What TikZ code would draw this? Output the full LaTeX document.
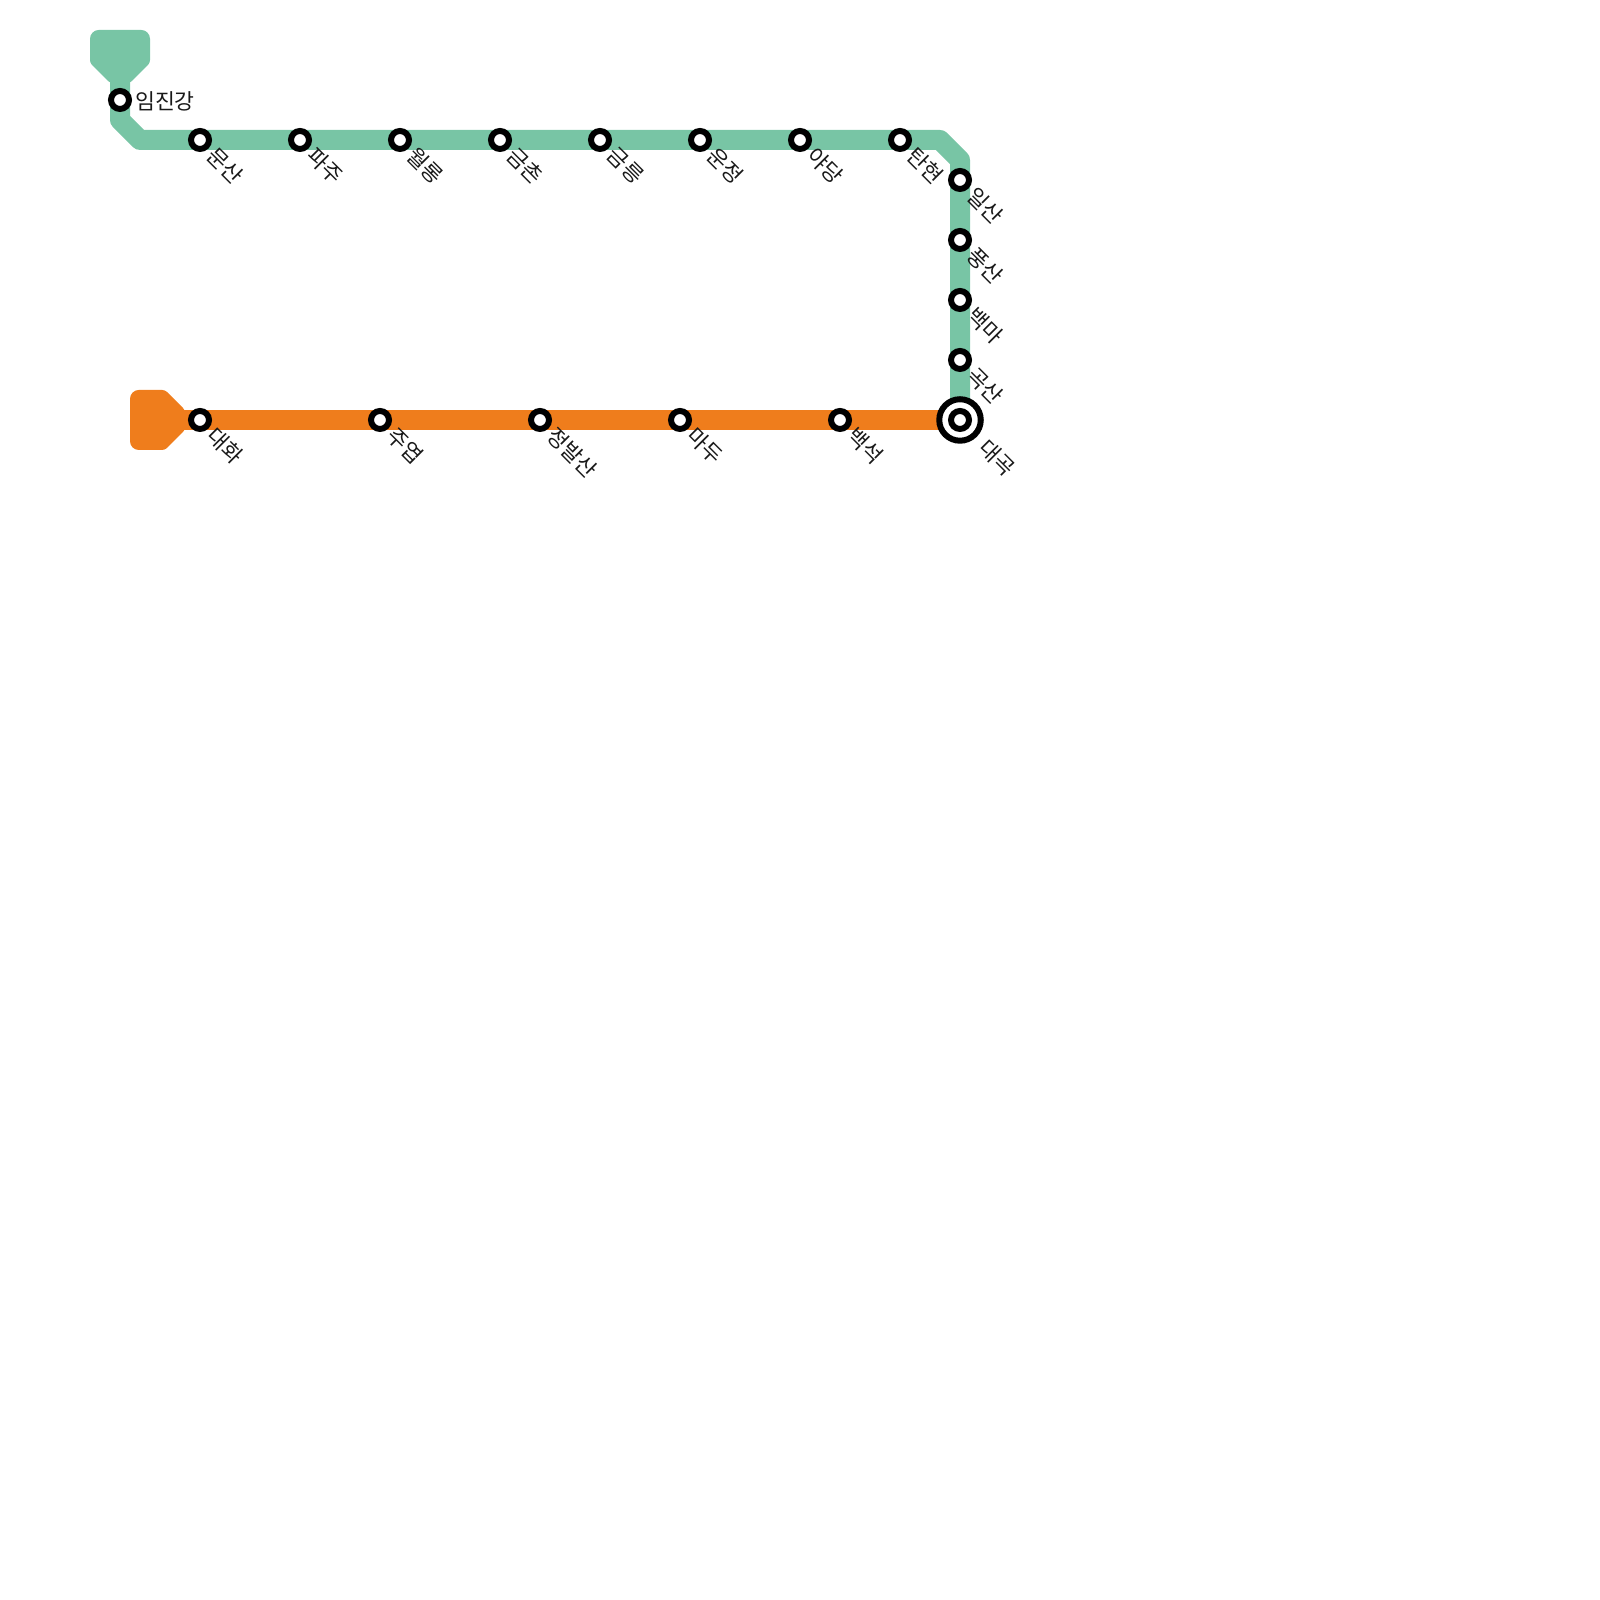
\documentclass[tikz,border=0pt]{standalone}
\usepackage{xcolor}
\usepackage{fontspec}
\setmainfont{Noto Sans CJK KR}
\usetikzlibrary{backgrounds}
\definecolor{linegreen}{HTML}{78C5A5}
\definecolor{lineorange}{HTML}{EF7D1C}

\begin{document}
\begin{tikzpicture}[x=1cm,y=1cm,
    track/.style={line width=0.2cm, line join=round},
    sta/.style={circle, draw=black, fill=white, line width=0.06cm, minimum size=0.18cm, inner sep=0pt, outer sep=0pt},
    ring/.style={circle, draw=black, fill=white, line width=0.06cm, minimum size=0.415cm, inner sep=0pt, outer sep=0pt},
    lblflat/.style={font=\fontsize{6.15pt}{7pt}\selectfont, text=black!90, anchor=west, inner sep=0pt},
    lbl/.style={lblflat, rotate=-45}]
  \useasboundingbox (0,0) rectangle (16,16);
  % ---------- interchange ----------
  \node[ring] (daegokring) at (9.6,11.8) {};
  \node[sta] (daegok) at (9.6,11.8) {};
  % ---------- green stations ----------
  \node[sta] (imjingang) at (1.2,15.0) {};
  \node[sta] (munsan)    at (2.0,14.6) {};
  \node[sta] (paju)      at (3.0,14.6) {};
  \node[sta] (wollong)   at (4.0,14.6) {};
  \node[sta] (geumchon)  at (5.0,14.6) {};
  \node[sta] (geumneung) at (6.0,14.6) {};
  \node[sta] (unjeong)   at (7.0,14.6) {};
  \node[sta] (yadang)    at (8.0,14.6) {};
  \node[sta] (tanhyeon)  at (9.0,14.6) {};
  \node[sta] (ilsan)     at (9.6,14.2) {};
  \node[sta] (pungsan)   at (9.6,13.6) {};
  \node[sta] (baengma)   at (9.6,13.0) {};
  \node[sta] (goksan)    at (9.6,12.4) {};
  % ---------- orange stations ----------
  \node[sta] (daehwa)     at (2.0,11.8) {};
  \node[sta] (juyeop)     at (3.8,11.8) {};
  \node[sta] (jeongbalsan) at (5.4,11.8) {};
  \node[sta] (madu)       at (6.8,11.8) {};
  \node[sta] (baekseok)   at (8.4,11.8) {};
  % ---------- bends ----------
  \coordinate (greenstart) at (1.2,15.4);
  \coordinate (bendA) at (1.2,14.8);
  \coordinate (bendB) at (1.4,14.6);
  \coordinate (bendC) at (9.4,14.6);
  \coordinate (bendD) at (9.6,14.4);
  \coordinate (orangestart) at (1.6,11.8);
  % ---------- lines ----------
  \begin{scope}[on background layer]
    \draw[track, linegreen] (greenstart) -- (imjingang.center) -- (bendA) -- (bendB) -- (munsan.center) -- (tanhyeon.center) -- (bendC) -- (bendD) -- (ilsan.center) -- (daegok.center);
    \draw[track, lineorange] (orangestart) -- (daehwa.center) -- (daegok.center);
    \fill[linegreen, rounded corners=2.5pt] (1.2,15.7) -- (1.5,15.7) [rounded corners=0.8pt] -- (1.5,15.37) -- (1.3,15.17) -- (1.1,15.17) -- (0.9,15.37) [rounded corners=2.5pt] -- (0.9,15.7) -- cycle;
    \fill[lineorange, rounded corners=2.5pt] (1.5,12.1) [rounded corners=0.8pt] -- (1.65,12.1) -- (1.85,11.9) -- (1.85,11.7) -- (1.65,11.5) [rounded corners=2.5pt] -- (1.3,11.5) -- (1.3,12.1) -- cycle;
  \end{scope}
  % ---------- labels ----------
  \node[lblflat] (imjingangl) at ([shift={(0.145,-0.01)}]imjingang.center) {임진강};
  \node[lbl] (munsanl)    at ([shift={(0.11,-0.11)}]munsan.center) {문산};
  \node[lbl] (pajul)      at ([shift={(0.11,-0.11)}]paju.center) {파주};
  \node[lbl] (wollongl)   at ([shift={(0.11,-0.11)}]wollong.center) {월롱};
  \node[lbl] (geumchonl)  at ([shift={(0.11,-0.11)}]geumchon.center) {금촌};
  \node[lbl] (geumneungl) at ([shift={(0.11,-0.11)}]geumneung.center) {금릉};
  \node[lbl] (unjeongl)   at ([shift={(0.11,-0.11)}]unjeong.center) {운정};
  \node[lbl] (yadangl)    at ([shift={(0.11,-0.11)}]yadang.center) {야당};
  \node[lbl] (tanhyeonl)  at ([shift={(0.11,-0.11)}]tanhyeon.center) {탄현};
  \node[lbl] (ilsanl)     at ([shift={(0.11,-0.11)}]ilsan.center) {일산};
  \node[lbl] (pungsanl)   at ([shift={(0.11,-0.11)}]pungsan.center) {풍산};
  \node[lbl] (baengmal)   at ([shift={(0.11,-0.11)}]baengma.center) {백마};
  \node[lbl] (goksanl)    at ([shift={(0.11,-0.11)}]goksan.center) {곡산};
  \node[lbl] (daegokl)    at ([shift={(0.23,-0.23)}]daegok.center) {대곡};
  \node[lbl] (daehwal)    at ([shift={(0.11,-0.11)}]daehwa.center) {대화};
  \node[lbl] (juyeopl)    at ([shift={(0.11,-0.11)}]juyeop.center) {주엽};
  \node[lbl] (jeongbalsanl) at ([shift={(0.11,-0.11)}]jeongbalsan.center) {정발산};
  \node[lbl] (madul)      at ([shift={(0.11,-0.11)}]madu.center) {마두};
  \node[lbl] (baekseokl)  at ([shift={(0.11,-0.11)}]baekseok.center) {백석};
\end{tikzpicture}
\end{document}
